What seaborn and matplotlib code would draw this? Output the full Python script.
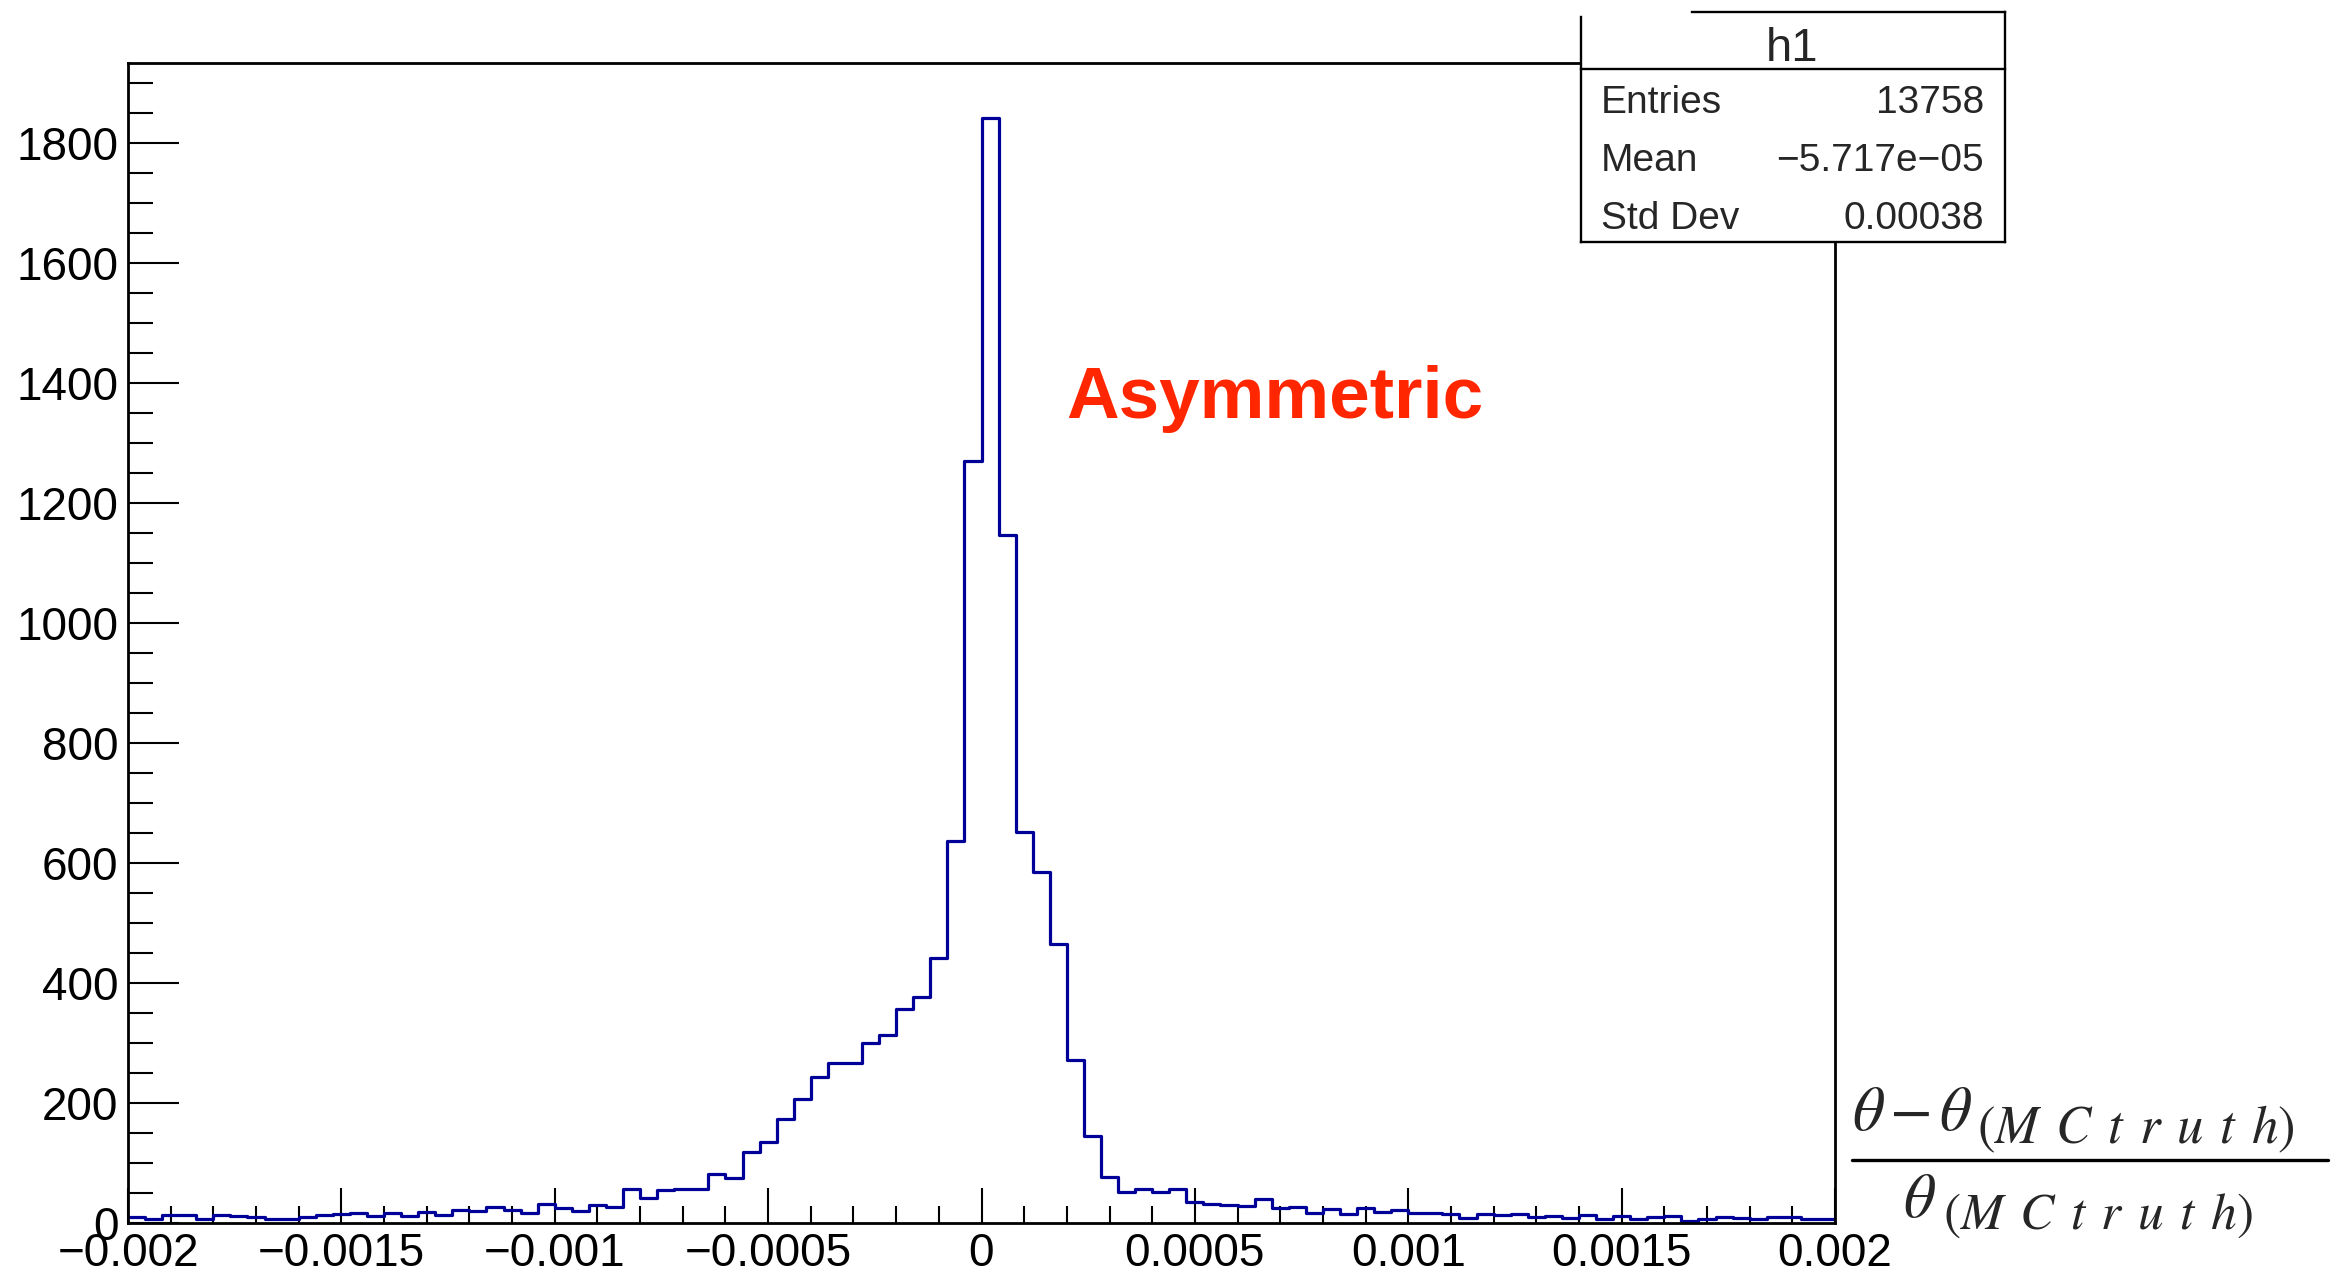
import numpy as np
import pandas as pd
import matplotlib
matplotlib.use("Agg")
import matplotlib.pyplot as plt
import seaborn as sns
from matplotlib.lines import Line2D
from matplotlib.patches import Rectangle
from matplotlib.ticker import MultipleLocator

# ---------------- data ----------------
x_min, x_max = -0.002, 0.002
n_bins = 100
counts = [
    10, 7, 13, 13, 7, 13, 12, 10, 7, 7,
    9, 13, 15, 17, 12, 17, 12, 18, 13, 21,
    20, 27, 21, 17, 32, 24, 20, 30, 26, 57,
    42, 55, 56, 57, 81, 75, 118, 134, 173, 206,
    243, 267, 267, 300, 313, 357, 376, 441, 637, 1270,
    1842, 1146, 651, 584, 464, 272, 144, 77, 52, 56,
    51, 56, 35, 32, 30, 28, 39, 24, 26, 17,
    23, 15, 24, 18, 22, 16, 17, 15, 8, 14,
    13, 14, 10, 11, 8, 13, 7, 11, 7, 10,
    11, 3, 6, 10, 8, 7, 10, 9, 7, 7,
]
x_ticks = [-0.002, -0.0015, -0.001, -0.0005, 0.0, 0.0005, 0.001, 0.0015, 0.002]
x_tick_labels = ["\u22120.002", "\u22120.0015", "\u22120.001", "\u22120.0005", "0",
                 "0.0005", "0.001", "0.0015", "0.002"]
y_ticks = [0, 200, 400, 600, 800, 1000, 1200, 1400, 1600, 1800]
y_tick_labels = [str(v) for v in y_ticks]
y_max = 1934
stats_title = "h1"
stats_names = ["Entries", "Mean", "Std Dev"]
stats_values = ["13758", "\u22125.717e\u221205", "0.00038"]
annotation = "Asymmetric"

# ---------------- style ----------------
sns.set_theme(style="white")
plt.rcParams["font.family"] = ["Liberation Sans", "DejaVu Sans"]
plt.rcParams["mathtext.fontset"] = "stix"

W, H = 2332, 1272
fig = plt.figure(figsize=(W / 100, H / 100), dpi=100)
fig.patch.set_facecolor("white")


def fx(px):
    return px / W


def fy(py):
    return 1 - py / H


ax_l, ax_r, ax_t, ax_b = 128, 1835, 62.7, 1222.7
ax = fig.add_axes([fx(ax_l), fy(ax_b), fx(ax_r) - fx(ax_l), fy(ax_t) - fy(ax_b)])
ax.set_facecolor("white")

df = pd.DataFrame({"x": (np.arange(n_bins) + 0.5) * (x_max - x_min) / n_bins + x_min,
                   "w": counts})
sns.histplot(data=df, x="x", weights="w", bins=n_bins, binrange=(x_min, x_max),
             element="step", fill=False, color="#000099", linewidth=2.3, ax=ax)

ax.set_xlim(x_min, x_max)
ax.set_ylim(0, y_max)
ax.set_xlabel("")
ax.set_ylabel("")
ax.set_xticks(x_ticks)
ax.set_xticklabels(x_tick_labels)
ax.set_yticks(y_ticks)
ax.set_yticklabels(y_tick_labels)
ax.xaxis.set_minor_locator(MultipleLocator(0.0001))
ax.yaxis.set_minor_locator(MultipleLocator(50))
ax.tick_params(which="both", direction="in", top=False, right=False,
               bottom=True, left=True, colors="black", width=1.5)
ax.tick_params(axis="x", which="major", length=25, labelsize=33, pad=7)
ax.tick_params(axis="x", which="minor", length=12.5)
ax.tick_params(axis="y", which="major", length=36.5, labelsize=33, pad=7)
ax.tick_params(axis="y", which="minor", length=18)
for s in ax.spines.values():
    s.set_color("black")
    s.set_linewidth(2.0)
    s.set_visible(True)

# annotation
fig.text(fx(1066), fy(418), annotation, color="#FF2600", fontsize=52.5,
         fontweight="bold", ha="left", va="baseline")

# ---------------- stats box ----------------
bx0, bx1, by0, by1 = 1581, 2005, 12, 242
fig.add_artist(Rectangle((fx(bx0), fy(by1)), fx(bx1) - fx(bx0), fy(by0) - fy(by1),
                         transform=fig.transFigure, facecolor="white",
                         edgecolor="none", zorder=5))
box_lines = [
    ((1692, bx1), (by0, by0)),
    ((bx0, bx0), (17, by1)),
    ((bx1, bx1), (by0, by1)),
    ((bx0, bx1), (by1, by1)),
    ((bx0, bx1), (69, 69)),
]
for xs, ys in box_lines:
    fig.add_artist(Line2D([fx(xs[0]), fx(xs[1])], [fy(ys[0]), fy(ys[1])],
                          transform=fig.transFigure, color="black", lw=1.7,
                          zorder=6, solid_capstyle="projecting"))
fig.text(fx(1792), fy(61), stats_title, fontsize=34, ha="center", va="baseline", zorder=7)
for i, (n, v) in enumerate(zip(stats_names, stats_values)):
    base = 113 + i * 58
    fig.text(fx(1601), fy(base), n, fontsize=28, ha="left", va="baseline", zorder=7)
    fig.text(fx(1984), fy(base), v, fontsize=28, ha="right", va="baseline", zorder=7)

# ---------------- axis title (fraction) ----------------
sub = r"$(M\;\,C\;\,t\;\,r\;\,u\;\,t\;\,h)$"
fig.text(fx(1852), fy(1130), r"$\theta\,{-}\,\theta$", fontsize=45,
         ha="left", va="baseline")
fig.text(fx(1977), fy(1143), sub, fontsize=38, ha="left", va="baseline")
fig.add_artist(Line2D([fx(1852), fx(2328)], [fy(1160), fy(1160)],
                      transform=fig.transFigure, color="black", lw=2.4))
fig.text(fx(1903), fy(1217), r"$\theta$", fontsize=45, ha="left", va="baseline")
fig.text(fx(1943), fy(1229), sub, fontsize=37, ha="left", va="baseline")

fig.savefig("out.png", dpi=100, facecolor="white")
